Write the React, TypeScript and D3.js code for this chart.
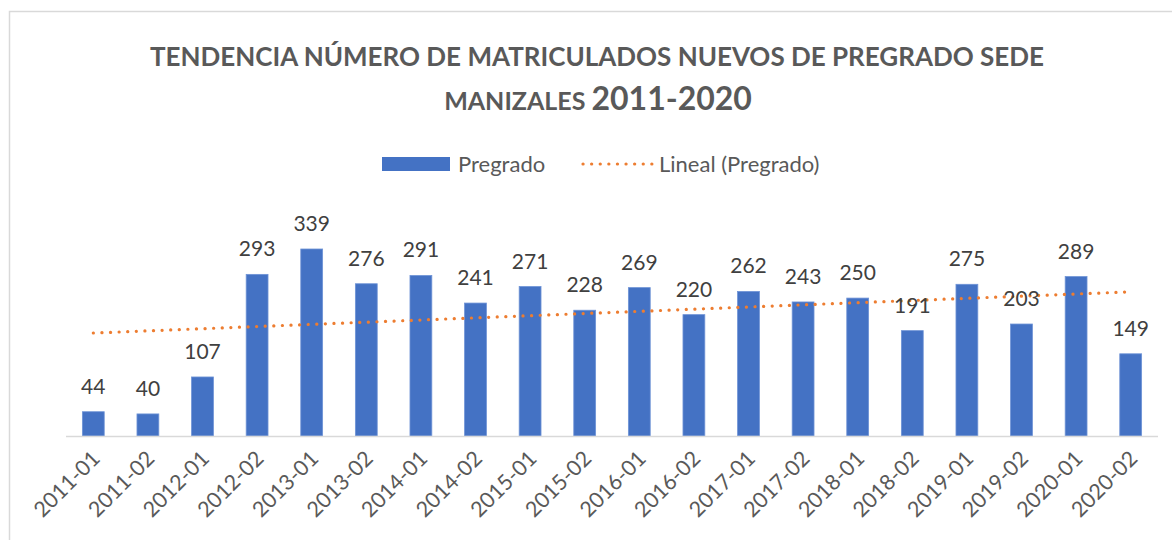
import React, { useEffect, useRef } from "react";
import * as d3 from "d3";

// periods (semesters) and new undergrad enrolments
const periods = [
  "2011-01", "2011-02", "2012-01", "2012-02", "2013-01", "2013-02", "2014-01",
  "2014-02", "2015-01", "2015-02", "2016-01", "2016-02", "2017-01", "2017-02",
  "2018-01", "2018-02", "2019-01", "2019-02", "2020-01", "2020-02",
];
const pregrado = [
  44, 40, 107, 293, 339, 276, 291, 241, 271, 228, 269, 220, 262, 243, 250, 191,
  275, 203, 289, 149,
];
const titleLine1 = "TENDENCIA NÚMERO DE MATRICULADOS NUEVOS DE PREGRADO SEDE";
const titleLine2a = "MANIZALES";
const titleLine2b = "2011-2020";
const legendLabels = ["Pregrado", "Lineal (Pregrado)"];

export default function App() {
  const svgRef = useRef<SVGSVGElement>(null);

  useEffect(() => {
    const width = 1172;
    const height = 540;
    const font = "Lato, 'Open Sans', sans-serif";
    const svg = d3.select(svgRef.current)
      .attr("width", width)
      .attr("height", height)
      .style("font-family", font);
    svg.selectAll("*").remove();

    // chart border (right/bottom edges run off the picture)
    svg.append("path")
      .attr("d", `M9.5,${height} V11.5 H${width}`)
      .attr("fill", "none")
      .attr("stroke", "#d9d9d9")
      .attr("stroke-width", 1.5);

    // --- scales ---
    const x = d3.scaleBand().domain(periods).range([66, 1158]).paddingInner(0.6).paddingOuter(0.3);
    const y = d3.scaleLinear().domain([0, 339]).range([436, 249]);

    // --- title ---
    svg.append("text")
      .attr("x", 597).attr("y", 66)
      .attr("text-anchor", "middle")
      .attr("font-size", 26).attr("font-weight", "bold")
      .attr("fill", "#595959")
      .text(titleLine1);
    const t2 = svg.append("text")
      .attr("x", 598).attr("y", 110)
      .attr("text-anchor", "middle")
      .attr("font-weight", "bold")
      .attr("fill", "#595959");
    t2.append("tspan").attr("font-size", 25).text(titleLine2a + " ");
    t2.append("tspan").attr("font-size", 32).text(titleLine2b);

    // --- legend ---
    svg.append("rect")
      .attr("x", 382).attr("y", 157).attr("width", 68).attr("height", 14)
      .attr("fill", "#4472c4");
    svg.append("text")
      .attr("x", 458).attr("y", 172)
      .attr("font-size", 22).attr("fill", "#595959")
      .text(legendLabels[0]);
    svg.append("line")
      .attr("x1", 583).attr("x2", 652).attr("y1", 164).attr("y2", 164)
      .attr("stroke", "#ed7d31").attr("stroke-width", 3.2)
      .attr("stroke-linecap", "round")
      .attr("stroke-dasharray", "0.1 8.5");
    svg.append("text")
      .attr("x", 659).attr("y", 172)
      .attr("font-size", 22).attr("fill", "#595959")
      .text(legendLabels[1]);

    // --- bars ---
    svg.append("g").selectAll("rect")
      .data(pregrado)
      .join("rect")
      .attr("x", (d, i) => x(periods[i])!)
      .attr("width", x.bandwidth())
      .attr("y", d => y(d))
      .attr("height", d => y(0) - y(d))
      .attr("fill", "#4472c4")
      .attr("stroke", "#6e93d6")
      .attr("stroke-width", 0.8);

    // --- axis line ---
    svg.append("line")
      .attr("x1", 66).attr("x2", 1158)
      .attr("y1", 436.5).attr("y2", 436.5)
      .attr("stroke", "#d9d9d9").attr("stroke-width", 1.5);

    // --- linear trendline (least squares) ---
    const xs = pregrado.map((_, i) => i + 1);
    const mx = d3.mean(xs)!;
    const my = d3.mean(pregrado)!;
    const slope = d3.sum(xs, (v, i) => (v - mx) * (pregrado[i] - my)) / d3.sum(xs, v => (v - mx) ** 2);
    const icpt = my - slope * mx;
    const cx = (i: number) => x(periods[i])! + x.bandwidth() / 2;
    svg.append("line")
      .attr("x1", cx(0)).attr("y1", y(icpt + slope * 1))
      .attr("x2", cx(periods.length - 1)).attr("y2", y(icpt + slope * periods.length))
      .attr("stroke", "#ed7d31").attr("stroke-width", 3.2)
      .attr("stroke-linecap", "round")
      .attr("stroke-dasharray", "0.1 8.5");

    // --- data labels ---
    svg.append("g").selectAll("text")
      .data(pregrado)
      .join("text")
      .attr("x", (d, i) => cx(i))
      .attr("y", d => y(d) - 18)
      .attr("text-anchor", "middle")
      .attr("font-size", 21)
      .attr("fill", "#404040")
      .text(d => d);

    // --- tick labels ---
    svg.append("g").selectAll("text")
      .data(periods)
      .join("text")
      .attr("transform", (d, i) => `translate(${cx(i) + 8},${460}) rotate(-45)`)
      .attr("text-anchor", "end")
      .attr("font-size", 21.5)
      .attr("fill", "#595959")
      .text(d => d);
  }, []);

  return (
    <div style={{ position: "absolute", left: 0, top: 0, width: 1172, height: 540, overflow: "hidden" }}>
      <svg ref={svgRef} style={{ display: "block" }}></svg>
    </div>
  );
}
